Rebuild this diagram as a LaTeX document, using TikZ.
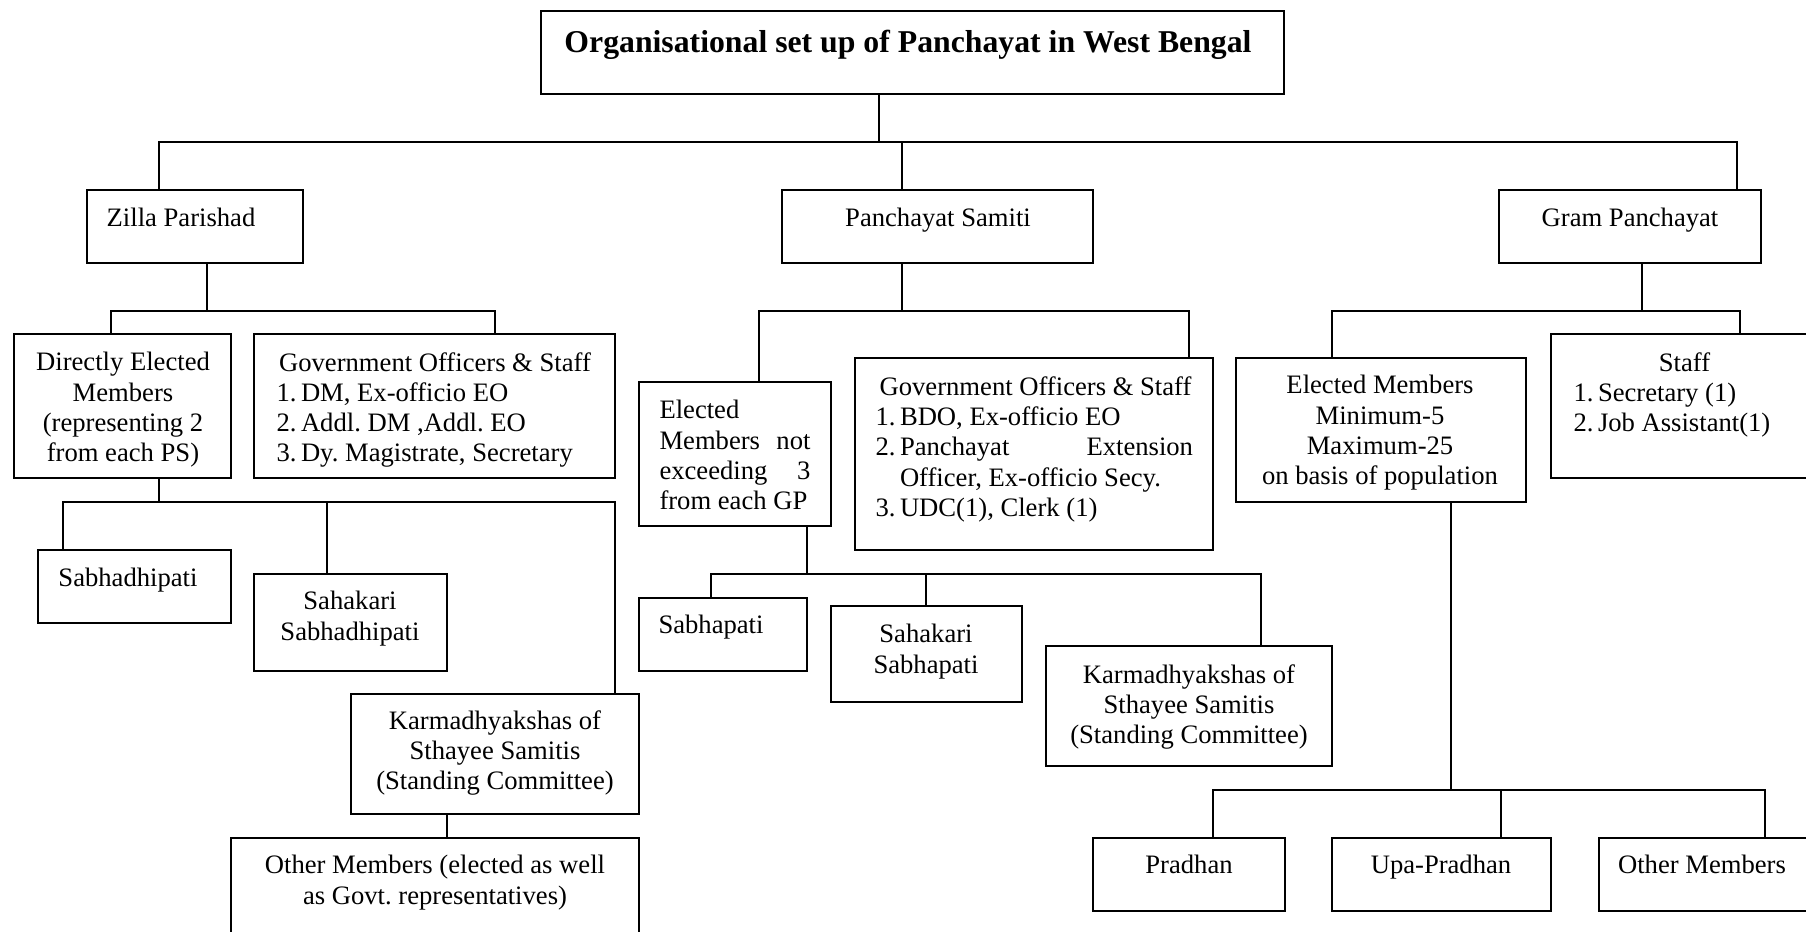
\documentclass[tikz,border=0pt]{standalone}
\usepackage{fontspec}
\setmainfont{Liberation Serif}
\usetikzlibrary{fit}
\newcommand\bx[5]{\node[bx, fit={(#2,#3) (#4,#5)}] (#1) {};}
\newcommand\nm[1]{\makebox[9.8pt][l]{#1.}}
\frenchspacing
\begin{document}
\begin{tikzpicture}[x=0.4pt,y=-0.4pt,
  bx/.style={draw, line width=0.75pt, inner sep=0pt, rectangle},
  ln/.style={line width=0.75pt},
  tx/.style={inner sep=0pt, font=\fontsize{10.65pt}{12.1pt}\selectfont\frenchspacing}]
\useasboundingbox (0,0) rectangle (1806,932);
\fill[white] (0,0) rectangle (1806,932);
\clip (0,0) rectangle (1806,932);
% boxes
\bx{title}{541}{11}{1284}{94}
\bx{zp}{87}{190}{303}{263}
\bx{ps}{782}{190}{1093}{263}
\bx{gp}{1499}{190}{1761}{263}
\bx{de}{14}{334}{231}{478}
\bx{gzp}{254}{334}{615}{478}
\bx{pse}{639}{382}{831}{526}
\bx{gps}{855}{358}{1213}{550}
\bx{gpe}{1236}{358}{1526}{502}
\bx{st}{1551}{334}{1840}{478}
\bx{sab}{38}{550}{231}{623}
\bx{sah}{254}{574}{447}{671}
\bx{kz}{351}{694}{639}{814}
\bx{oz}{231}{838}{639}{960}
\bx{sp}{639}{598}{807}{671}
\bx{ssp}{831}{606}{1022}{702}
\bx{kp}{1046}{646}{1332}{766}
\bx{pr}{1093}{838}{1285}{911}
\bx{up}{1332}{838}{1551}{911}
\bx{og}{1599}{838}{1840}{911}
% texts
\node[tx, anchor=base, font=\fontsize{12.7pt}{15pt}\selectfont\bfseries] (ttitle) at (908,53) {Organisational set up of Panchayat in West Bengal};
\node[tx, anchor=base] (tzp) at (181,227) {Zilla Parishad};
\node[tx, anchor=base] (tps) at (938,227) {Panchayat Samiti};
\node[tx, anchor=base] (tgp) at (1630,227) {Gram Panchayat};
\node[tx, anchor=north, align=center] (tde) at (123,352) {Directly Elected\\Members\\(representing 2\\from each PS)};
\node[tx, anchor=north west, align=left] (tgzp) at (276,352) {\makebox[126.8pt]{Government Officers \& Staff}\\\nm{1}DM, Ex-officio EO\\\nm{2}Addl. DM ,Addl. EO\\\nm{3}Dy. Magistrate, Secretary};
\node[tx, anchor=north west, align=left] (tpse) at (659,400) {Elected\\\makebox[60.4pt]{Members\hfill not}\\\makebox[60.4pt]{exceeding\hfill 3}\\from each GP};
\node[tx, anchor=north west, align=left] (tgps) at (875,376) {\makebox[128pt]{Government Officers \& Staff}\\\nm{1}BDO, Ex-officio EO\\\nm{2}\makebox[117.2pt]{Panchayat\hfill Extension}\\\hspace*{9.8pt}Officer, Ex-officio Secy.\\\nm{3}UDC(1), Clerk (1)};
\node[tx, anchor=north, align=center] (tgpe) at (1380,375) {Elected Members\\Minimum-5\\Maximum-25\\on basis of population};
\node[tx, anchor=north west, align=left] (tst) at (1573,352) {\makebox[88.8pt]{Staff}\\\nm{1}Secretary (1)\\\nm{2}Job Assistant(1)};
\node[tx, anchor=base] (tsab) at (128,586) {Sabhadhipati};
\node[tx, anchor=north, align=center] (tsah) at (350,591) {Sahakari\\Sabhadhipati};
\node[tx, anchor=north, align=center] (tkz) at (495,710) {Karmadhyakshas of\\Sthayee Samitis\\(Standing Committee)};
\node[tx, anchor=north, align=center] (toz) at (435,855) {Other Members (elected as well\\as Govt. representatives)};
\node[tx, anchor=base] (tsp) at (711,633) {Sabhapati};
\node[tx, anchor=north, align=center] (tssp) at (926,624) {Sahakari\\Sabhapati};
\node[tx, anchor=north, align=center] (tkp) at (1189,664) {Karmadhyakshas of\\Sthayee Samitis\\(Standing Committee)};
\node[tx, anchor=base] (tpr) at (1189,873) {Pradhan};
\node[tx, anchor=base] (tup) at (1441,873) {Upa-Pradhan};
\node[tx, anchor=base] (tog) at (1702,873) {Other Members};
% connectors level 1
\coordinate (j0) at (879,142); \coordinate (czp) at (159,142);
\coordinate (cps) at (902,142); \coordinate (cgp) at (1737,142);
\draw[ln] (title.south -| j0) -- (j0);
\draw[ln] (czp |- zp.north) -- (czp) -- (cgp) -- (cgp |- gp.north);
\draw[ln] (cps) -- (cps |- ps.north);
% ZP
\coordinate (jzp) at (207,311); \coordinate (cde) at (111,311); \coordinate (cgzp) at (495,311);
\draw[ln] (zp.south -| jzp) -- (jzp);
\draw[ln] (cde |- de.north) -- (cde) -- (cgzp) -- (cgzp |- gzp.north);
% PS
\coordinate (jps) at (902,311); \coordinate (cpse) at (759,311); \coordinate (cgps) at (1189,311);
\draw[ln] (ps.south -| jps) -- (jps);
\draw[ln] (cpse |- pse.north) -- (cpse) -- (cgps) -- (cgps |- gps.north);
% GP
\coordinate (jgp) at (1642,311); \coordinate (cgpe) at (1332,311); \coordinate (cst) at (1740,311);
\draw[ln] (gp.south -| jgp) -- (jgp);
\draw[ln] (cgpe |- gpe.north) -- (cgpe) -- (cst) -- (cst |- st.north);
% DE
\coordinate (jde) at (159,502); \coordinate (csab) at (63,502);
\coordinate (csah) at (327,502); \coordinate (ckz) at (615,502);
\draw[ln] (de.south -| jde) -- (jde);
\draw[ln] (csab |- sab.north) -- (csab) -- (ckz) -- (ckz |- kz.north);
\draw[ln] (csah) -- (csah |- sah.north);
\coordinate (xkz) at (447,826);
\draw[ln] (kz.south -| xkz) -- (oz.north -| xkz);
% PS elected
\coordinate (jpse) at (807,574); \coordinate (csp) at (711,574);
\coordinate (cssp) at (926,574); \coordinate (ckp) at (1261,574);
\draw[ln] (pse.south -| jpse) -- (jpse);
\draw[ln] (csp |- sp.north) -- (csp) -- (ckp) -- (ckp |- kp.north);
\draw[ln] (cssp) -- (cssp |- ssp.north);
% GP elected
\coordinate (jgpe) at (1451,790); \coordinate (cpr) at (1213,790);
\coordinate (cup) at (1501,790); \coordinate (cog) at (1765,790);
\draw[ln] (gpe.south -| jgpe) -- (jgpe);
\draw[ln] (cpr |- pr.north) -- (cpr) -- (cog) -- (cog |- og.north);
\draw[ln] (cup) -- (cup |- up.north);
\end{tikzpicture}
\end{document}
